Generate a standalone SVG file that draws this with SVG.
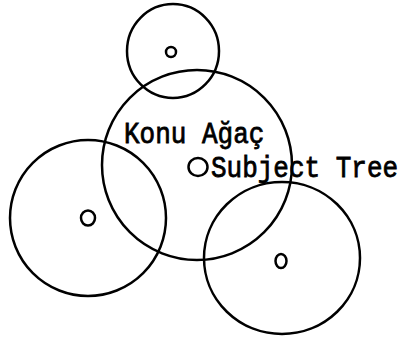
<svg xmlns="http://www.w3.org/2000/svg" width="402" height="341" viewBox="0 0 402 341">
<style>
.c{fill:none;stroke:#000;stroke-width:2.5}
.d{fill:none;stroke:#000;stroke-width:2.5}
.t{font-family:"Liberation Mono","DejaVu Sans Mono",monospace;font-size:26px;fill:#000;stroke:#000;stroke-width:0.7}
</style>
<rect width="402" height="341" fill="#fff"/>
<g id="top">
<ellipse class="c" cx="173" cy="51" rx="46" ry="47"/>
<circle class="d" cx="171" cy="52" r="5"/>
</g>
<g id="center">
<ellipse class="c" cx="197" cy="165" rx="95" ry="95"/>
<ellipse class="d" cx="198" cy="167" rx="9.5" ry="9"/>
<g transform="scale(1,1.15)">
<text class="t" x="124" y="124.3">Konu Ağaç</text>
<text class="t" x="211" y="153.9">Subject Tree</text>
</g>
</g>
<g id="left">
<ellipse class="c" cx="88" cy="218" rx="78" ry="78"/>
<ellipse class="d" cx="88" cy="218" rx="7" ry="7.5"/>
</g>
<g id="right">
<ellipse class="c" cx="282" cy="258" rx="78" ry="76"/>
<ellipse class="d" cx="281" cy="261" rx="5.5" ry="7"/>
</g>
<g id="connectors"/>
</svg>
